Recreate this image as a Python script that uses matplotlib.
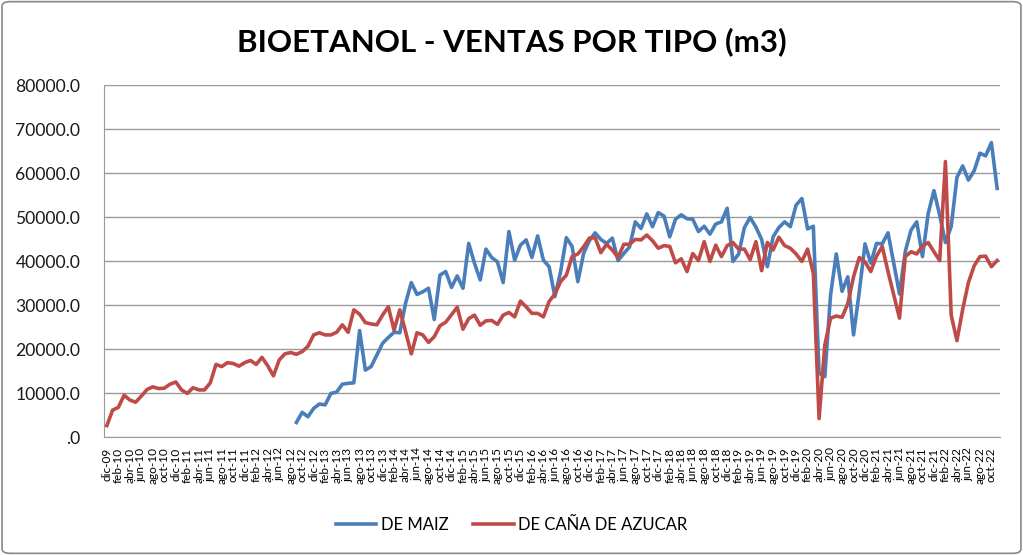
import matplotlib
matplotlib.use("Agg")
import matplotlib.pyplot as plt
from matplotlib.ticker import FuncFormatter
from matplotlib.patches import FancyBboxPatch
from matplotlib.lines import Line2D

months = ["ene", "feb", "mar", "abr", "may", "jun", "jul", "ago", "sep", "oct", "nov", "dic"]
# monthly categories from dic-09 to nov-22
categories = ["dic-09"] + [f"{months[m]}-{y:02d}" for y in range(10, 23) for m in range(12)][:155]

de_cana = [2600, 6100, 6750, 9500, 8400, 7900, 9300, 10800, 11400, 11000,
           11100, 12000, 12500, 10700, 9900, 11200, 10700, 10700, 12300, 16500,
           16000, 16900, 16700, 16100, 16900, 17400, 16500, 18100, 16200, 13900,
           17500, 18900, 19200, 18800, 19400, 20600, 23200, 23700, 23200, 23200,
           23800, 25500, 23800, 28900, 27900, 26000, 25700, 25500, 27700, 29600,
           24300, 28900, 24000, 18900, 23700, 23200, 21500, 22800, 25300, 26100,
           27800, 29500, 24500, 26900, 27700, 25400, 26400, 26500, 25600, 27700,
           28300, 27300, 30900, 29600, 28100, 28100, 27300, 30800, 32500, 35300,
           36800, 41000, 41600, 43200, 45200, 45300, 41900, 43800, 42500, 40800,
           43800, 43800, 44900, 44800, 45900, 44600, 42900, 43500, 43300, 39600,
           40500, 37600, 41700, 40100, 44400, 39900, 43600, 41000, 43500, 44200,
           42700, 42700, 40300, 44400, 37800, 44200, 42500, 45400, 43500, 42900,
           41600, 39900, 42700, 37200, 4200, 20900, 27000, 27500, 27200, 30300,
           36400, 40800, 39800, 37600, 41100, 43300, 37600, 32300, 27000, 41000,
           42100, 41600, 43400, 44200, 42100, 40100, 62600, 27700, 21900, 29000,
           35100, 38900, 41000, 41100, 38700, 40100]

de_maiz_start = 33  # sep-12
de_maiz = [3300, 5600, 4600, 6500, 7500, 7300, 9900, 10200, 12000, 12200,
           12300, 24200, 15200, 16000, 18600, 21300, 22600, 23800, 23700, 30400,
           35100, 32400, 33000, 33800, 26700, 36800, 37600, 34000, 36600, 33800,
           44000, 39500, 35700, 42700, 40800, 39800, 35100, 46700, 40200, 43600,
           44800, 40800, 45700, 40200, 38700, 31900, 37600, 45300, 43300, 35300,
           41700, 44600, 46400, 44900, 44000, 45200, 40100, 41700, 43200, 48900,
           47400, 50700, 47800, 51000, 50200, 45500, 49500, 50500, 49600, 49500,
           46700, 47900, 46100, 48400, 48900, 52000, 39900, 41600, 47600, 49900,
           47700, 44900, 38700, 45500, 47600, 48900, 47800, 52700, 54200, 47300,
           47900, 14500, 13700, 32300, 41600, 33100, 36400, 23200, 33000, 43900,
           39500, 44000, 43900, 46400, 39500, 32500, 42100, 47000, 48900, 41000,
           50800, 56000, 50400, 44200, 47800, 59000, 61600, 58400, 60500, 64500,
           63900, 66900, 56500]

y_ticks = [0, 10000, 20000, 30000, 40000, 50000, 60000, 70000, 80000]

BLUE = "#4A7EBB"
RED = "#BE4B48"
FONT = ["Lato", "DejaVu Sans"]
plt.rcParams["font.family"] = FONT

fig = plt.figure(figsize=(10.23, 5.55), dpi=100)
ax = fig.add_axes([104 / 1023, 1 - 437 / 555, 896 / 1023, 352 / 555])

x_cana = list(range(len(de_cana)))
x_maiz = list(range(de_maiz_start, de_maiz_start + len(de_maiz)))
ax.plot(x_maiz, de_maiz, color=BLUE, lw=2.6, solid_joinstyle="round", zorder=3)
ax.plot(x_cana, de_cana, color=RED, lw=2.6, solid_joinstyle="round", zorder=3)

ax.set_xlim(-0.5, len(categories) - 0.5)
ax.set_ylim(0, 80000)
ax.set_yticks(y_ticks)
ax.yaxis.set_major_formatter(FuncFormatter(lambda v, p: ".0" if v == 0 else f"{v:.1f}"))
ax.grid(axis="y", color="#9A9A9A", lw=1)
ax.set_axisbelow(True)
ax.set_xticks(range(0, len(categories), 2))
ax.set_xticklabels(categories[::2], rotation=90, fontsize=8.5, family=FONT)
ax.tick_params(axis="y", labelsize=12.6, length=0, pad=17, labelcolor="#1a1a1a")
ax.tick_params(axis="x", length=0, pad=7.5)
for s in ["top", "right"]:
    ax.spines[s].set_visible(False)
ax.spines["left"].set_color("#9A9A9A")
ax.spines["bottom"].set_color("#9A9A9A")

fig.text(0.5, 1 - 42 / 555, "BIOETANOL - VENTAS POR TIPO (m3)", ha="center", va="center",
         fontsize=22.5, fontweight="bold", color="#000000")

handles = [Line2D([], [], color=BLUE, lw=2.6), Line2D([], [], color=RED, lw=2.6)]
fig.legend(handles, ["DE MAIZ", "DE CAÑA DE AZUCAR"], loc="center", bbox_to_anchor=(0.5, 1 - 525 / 555),
           ncol=2, frameon=False, fontsize=12, handlelength=2.45, handletextpad=0.25,
           columnspacing=1.5)

border = FancyBboxPatch((0.002, 0.003), 0.996, 0.994, boxstyle="round,pad=0,rounding_size=0.008",
                        transform=fig.transFigure, fill=False, ec="#888888", lw=1.2)
fig.patches.append(border)

fig.savefig("out.png", dpi=100)
